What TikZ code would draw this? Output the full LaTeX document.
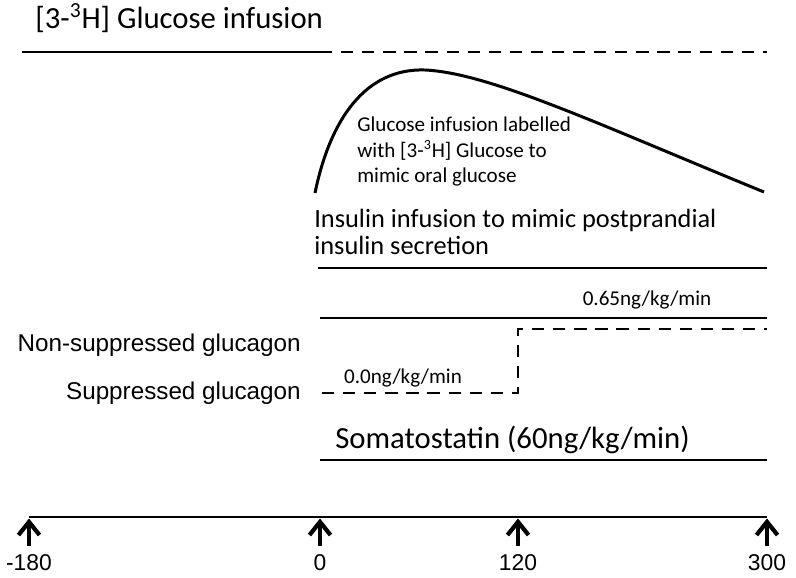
\documentclass[tikz,border=0pt]{standalone}
\usepackage{fontspec}
\setmainfont{Carlito}
\newfontfamily\arialfont{Liberation Sans}
\usetikzlibrary{arrows.meta}
\tikzset{
  lbl/.style    = {inner sep=0pt, anchor=west, align=left,
                   font=\fontsize{15}{15}\selectfont},
  big/.style    = {inner sep=0pt, anchor=west,
                   font=\fontsize{17.5}{20}\selectfont},
  small/.style  = {inner sep=0pt, align=left,
                   font=\fontsize{12}{14.3}\selectfont},
  glab/.style   = {inner sep=0pt, anchor=east,
                   font=\arialfont\fontsize{13.8}{16}\selectfont},
  tlab/.style   = {inner sep=0pt,
                   font=\arialfont\fontsize{13}{15}\selectfont},
  solid line/.style = {line width=1.7pt},
  thin line/.style  = {line width=0.9pt},
  dash line/.style  = {line width=1.7pt, dash pattern=on 7pt off 5pt},
  tick/.style   = {line width=2.4pt,
                   -{Straight Barb[length=7.5pt, width=12pt, line width=2.4pt]}},
}
\begin{document}
\begin{tikzpicture}[x=0.02cm, y=-0.02cm]
\useasboundingbox (0,0) rectangle (796,578);

% ── time points (pixel grid, y downwards) ───────────────────
\coordinate (t-180) at (29,517);
\coordinate (t0)    at (320,517);
\coordinate (t120)  at (518,517);
\coordinate (t300)  at (767,517);

% ═══════════════════════════════════════════════════════════
%  TRACER
% ═══════════════════════════════════════════════════════════
\node[big] (tracer) at (35,18)
  {[3-\textsuperscript{3}H] Glucose infusion};

\coordinate (tr-a) at (22,52);
\coordinate (tr-b) at (320,52);
\coordinate (tr-c) at (767,52);
\draw[solid line] (tr-a) -- (tr-b);
\draw[dash line]  (tr-b) -- (tr-c);

% ═══════════════════════════════════════════════════════════
%  GLUCOSE INFUSION (curve)
% ═══════════════════════════════════════════════════════════
\coordinate (gl-a) at (315,193);
\coordinate (gl-p) at (425,70);
\coordinate (gl-b) at (764,192);
\draw[solid line] (gl-a) .. controls (330,120) and (365,68) .. (gl-p)
                         .. controls (490,73) and (600,125) .. (gl-b);

\node[small, anchor=north west] (gltext) at (357,117)
  {Glucose infusion labelled\\
   with [3-\textsuperscript{3}H] Glucose to\\
   mimic oral glucose};

% ═══════════════════════════════════════════════════════════
%  INSULIN
% ═══════════════════════════════════════════════════════════
\node[lbl, anchor=north west] (insulin) at (314,209)
  {Insulin infusion to mimic postprandial\\
   insulin secretion};

\coordinate (in-a) at (318,268);
\coordinate (in-b) at (767,268);
\draw[thin line] (in-a) -- (in-b);

% ═══════════════════════════════════════════════════════════
%  GLUCAGON
% ═══════════════════════════════════════════════════════════
\coordinate (ns-a) at (320,318);
\coordinate (ns-b) at (767,318);
\draw[solid line] (ns-a) -- (ns-b);
\node[small] (rate-hi) at (647,300) {0.65ng/kg/min};

\coordinate (su-a)  at (322,393);
\coordinate (su-b)  at (518,393);
\coordinate (su-c)  at (518,329);
\coordinate (su-d)  at (767,329);
\draw[dash line] (su-a) -- (su-b) -- (su-c) -- (su-d);
\node[small] (rate-lo) at (403,378) {0.0ng/kg/min};

\node[glab] (nonsup) at (301,345) {Non-suppressed glucagon};
\node[glab] (sup)    at (301,393) {Suppressed glucagon};

% ═══════════════════════════════════════════════════════════
%  SOMATOSTATIN
% ═══════════════════════════════════════════════════════════
\node[big] (somato) at (335,440) {Somatostatin (60ng/kg/min)};

\coordinate (so-a) at (320,460);
\coordinate (so-b) at (767,460);
\draw[solid line] (so-a) -- (so-b);

% ═══════════════════════════════════════════════════════════
%  TIME AXIS
% ═══════════════════════════════════════════════════════════
\draw[solid line] (t-180) -- (t300);

\foreach \t/\txt in {t-180/-180, t0/0, t120/120, t300/300} {
  \draw[tick] ([yshift=-0.58cm]\t) -- ([yshift=-0.03cm]\t);
  \node[tlab] at ([yshift=-0.92cm]\t) {\txt};
}

\end{tikzpicture}
\end{document}
